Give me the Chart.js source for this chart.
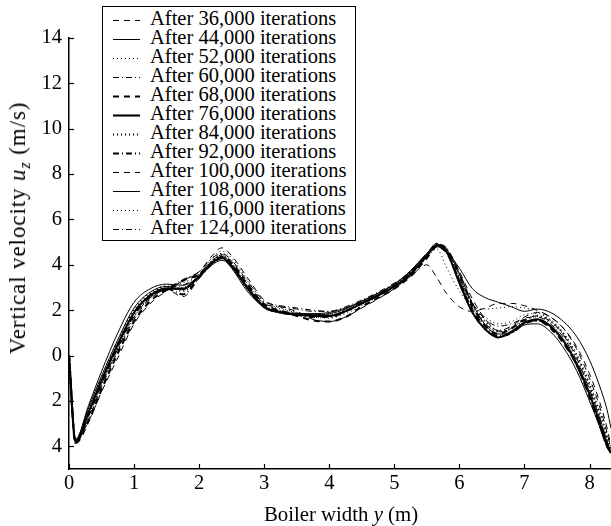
<!DOCTYPE html>
<html>
<head>
<meta charset="utf-8">
<script src="https://cdn.jsdelivr.net/npm/chart.js@4/dist/chart.umd.min.js"></script>
<style>
  html, body { margin: 0; padding: 0; background: #fff; }
  #wrap { position: relative; width: 611px; height: 526px; font-family: 'Liberation Serif', 'Times New Roman', serif; color: #000; }
  #c { position: absolute; left: 0; top: 0; }
  .axis-title { position: absolute; line-height: 20px; white-space: nowrap; }
  .axis-title sub { font-size: 0.7em; vertical-align: -0.3em; line-height: 0; font-style: italic; }
  #legend { position: absolute; left: 102px; top: 6px; width: 254px; height: 235px; box-sizing: border-box; border: 1.3px solid #000; background: #fff; }
  .row { position: absolute; left: 0; height: 19px; width: 100%; }
  .row svg { position: absolute; left: 10px; top: 0; }
  .row span { position: absolute; left: 47px; top: -2.5px; font-size: 20.5px; line-height: 19px; white-space: nowrap; }
</style>
</head>
<body>
<div id="wrap">
  <canvas id="c" width="611" height="526"></canvas>
  <div id="legend"></div>
  <div class="axis-title" id="ytitle" style="left:18px; top:228px; font-size:23px; letter-spacing:0.9px; transform: translate(-50%, -50%) rotate(-90deg);">Vertical velocity <i>u</i><sub>z</sub> (m/s)</div>
  <div class="axis-title" id="xtitle" style="left:341px; top:504px; font-size:20.8px; transform: translateX(-50%);">Boiler width <i>y</i> (m)</div>
</div>
<script>
// Positions across the boiler width y (m)
const boilerWidth = [0, 0.1, 0.3, 0.5, 0.75, 1.0, 1.25, 1.5, 1.75, 2.0, 2.2, 2.35, 2.5, 2.75, 3.0, 3.25, 3.5, 3.75, 4.0, 4.25, 4.5, 4.75, 5.0, 5.25, 5.5, 5.65, 5.8, 6.0, 6.2, 6.4, 6.6, 6.8, 7.0, 7.2, 7.4, 7.6, 7.8, 8.0, 8.15, 8.27, 8.33];

// Vertical velocity u_z (m/s) after each number of iterations
const uz36k  = [0, -3.75, -2.9, -1.6, -0.1, 1.4, 2.3, 2.85, 3.3, 3.7, 4.4, 4.75, 4.4, 3.4, 2.45, 2.15, 1.95, 1.6, 1.5, 1.7, 2.1, 2.5, 2.95, 3.5, 4.0, 3.45, 2.75, 2.15, 1.95, 2.1, 2.3, 2.3, 2.2, 2.0, 1.7, 1.2, 0.4, -0.8, -2.0, -3.2, -4.0];
const uz44k  = [0, -3.7, -2.2, -0.7, 1.0, 2.35, 2.95, 3.15, 3.1, 3.5, 4.1, 4.3, 3.85, 2.8, 2.15, 1.95, 1.85, 1.85, 1.9, 2.1, 2.4, 2.75, 3.15, 3.75, 4.5, 4.8, 4.6, 3.85, 2.95, 2.55, 2.35, 2.15, 1.95, 2.05, 1.9, 1.5, 0.85, -0.2, -1.3, -2.4, -3.2];
const uz52k  = [0, -3.8, -2.6, -1.2, 0.4, 1.8, 2.6, 3.0, 3.2, 3.6, 4.3, 4.6, 4.3, 3.3, 2.35, 2.1, 1.9, 1.7, 1.65, 1.85, 2.2, 2.6, 3.0, 3.55, 4.3, 4.7, 3.9, 2.85, 2.15, 2.05, 2.1, 2.15, 2.1, 1.95, 1.6, 1.0, 0.1, -1.2, -2.4, -3.5, -4.2];
const uz60k  = [0, -3.8, -2.7, -1.3, 0.3, 1.7, 2.55, 2.95, 3.35, 3.7, 4.3, 4.5, 4.2, 3.25, 2.4, 2.2, 2.1, 2.0, 1.95, 2.1, 2.35, 2.7, 3.05, 3.6, 4.4, 4.8, 4.5, 3.4, 2.3, 1.6, 1.3, 1.4, 1.65, 1.7, 1.4, 0.8, -0.2, -1.5, -2.7, -3.8, -4.3];
const uz68k  = [0, -3.85, -2.9, -1.5, 0.1, 1.5, 2.4, 2.9, 3.3, 3.6, 4.1, 4.35, 4.05, 3.1, 2.25, 1.95, 1.75, 1.55, 1.5, 1.7, 2.15, 2.55, 2.95, 3.5, 4.3, 4.8, 4.55, 3.3, 2.0, 1.3, 0.95, 1.2, 1.55, 1.55, 1.2, 0.55, -0.4, -1.8, -3.0, -4.0, -4.3];
const uz76k  = [0, -3.8, -2.5, -1.1, 0.5, 1.9, 2.65, 2.95, 2.95, 3.5, 4.1, 4.3, 3.95, 2.95, 2.15, 1.9, 1.8, 1.75, 1.75, 1.95, 2.3, 2.65, 3.05, 3.6, 4.4, 4.85, 4.6, 3.2, 1.9, 1.15, 0.8, 1.05, 1.45, 1.6, 1.3, 0.65, -0.35, -1.7, -2.9, -3.9, -4.3];
const uz84k  = [0, -3.75, -2.4, -1.0, 0.6, 2.0, 2.75, 3.05, 2.85, 3.5, 4.15, 4.4, 4.0, 3.0, 2.2, 1.95, 1.85, 1.8, 1.8, 2.0, 2.3, 2.7, 3.1, 3.65, 4.4, 4.9, 4.65, 3.5, 2.3, 1.5, 1.1, 1.2, 1.55, 1.75, 1.5, 0.95, 0.0, -1.3, -2.5, -3.6, -4.2];
const uz92k  = [0, -3.85, -2.6, -1.2, 0.4, 1.8, 2.6, 2.95, 2.7, 3.45, 4.05, 4.3, 3.95, 2.95, 2.15, 1.9, 1.8, 1.7, 1.7, 1.95, 2.3, 2.7, 3.1, 3.65, 4.45, 4.9, 4.7, 3.6, 2.2, 1.3, 0.85, 1.0, 1.4, 1.55, 1.25, 0.6, -0.4, -1.8, -3.0, -4.0, -4.3];
const uz100k = [0, -3.8, -2.8, -1.4, 0.2, 1.6, 2.5, 2.9, 2.6, 3.4, 4.1, 4.45, 4.15, 3.15, 2.3, 2.0, 1.85, 1.75, 1.75, 1.95, 2.3, 2.65, 3.05, 3.6, 4.45, 4.95, 4.75, 3.7, 2.5, 1.6, 1.1, 1.3, 1.7, 1.9, 1.7, 1.2, 0.3, -1.0, -2.2, -3.4, -4.1];
const uz108k = [0, -3.7, -2.3, -0.9, 0.7, 2.1, 2.8, 3.05, 2.9, 3.45, 4.0, 4.2, 3.9, 2.9, 2.1, 1.9, 1.85, 1.8, 1.85, 2.05, 2.4, 2.75, 3.15, 3.7, 4.5, 4.9, 4.7, 3.6, 2.3, 1.35, 0.95, 1.0, 1.35, 1.4, 1.05, 0.35, -0.65, -2.0, -3.1, -4.0, -4.3];
const uz116k = [0, -3.8, -2.7, -1.3, 0.3, 1.7, 2.55, 2.95, 3.0, 3.55, 4.2, 4.5, 4.15, 3.15, 2.3, 2.05, 1.9, 1.8, 1.8, 2.0, 2.35, 2.7, 3.05, 3.6, 4.4, 4.85, 4.6, 3.4, 2.3, 1.7, 1.4, 1.5, 1.8, 1.85, 1.55, 0.95, 0.0, -1.35, -2.6, -3.7, -4.2];
const uz124k = [0, -3.75, -2.5, -1.1, 0.5, 1.9, 2.7, 3.0, 3.1, 3.6, 4.2, 4.4, 4.05, 3.05, 2.3, 2.15, 2.05, 1.95, 1.95, 2.15, 2.45, 2.8, 3.2, 3.7, 4.45, 4.85, 4.55, 3.3, 2.1, 1.4, 1.05, 1.2, 1.6, 1.75, 1.5, 0.9, -0.1, -1.5, -2.7, -3.8, -4.3];

const seriesLabels = [
  'After 36,000 iterations', 'After 44,000 iterations', 'After 52,000 iterations',
  'After 60,000 iterations', 'After 68,000 iterations', 'After 76,000 iterations',
  'After 84,000 iterations', 'After 92,000 iterations', 'After 100,000 iterations',
  'After 108,000 iterations', 'After 116,000 iterations', 'After 124,000 iterations'
];
const seriesValues = [uz36k, uz44k, uz52k, uz60k, uz68k, uz76k, uz84k, uz92k, uz100k, uz108k, uz116k, uz124k];

// Axis ticks
const xTicks = [0, 1, 2, 3, 4, 5, 6, 7, 8];
const yTicks = [-4, -2, 0, 2, 4, 6, 8, 10, 12, 14];
const yTickLabels = ['4', '2', '0', '2', '4', '6', '8', '10', '12', '14'];

// Line styles cycle: dashed, solid, dotted, dash-dot; 68k–92k drawn heavier
const DASHES = [[6, 5], [], [1, 3], [6, 3, 1, 3]];
function styleFor(i) {
  const heavy = i >= 4 && i <= 7;
  return { dash: DASHES[i % 4], width: heavy ? 2.1 : 1 };
}

const FONT = "'Liberation Serif', 'Times New Roman', serif";

const datasets = seriesValues.map((vals, i) => {
  const st = styleFor(i);
  return {
    label: seriesLabels[i],
    data: vals.map((v, k) => ({ x: boilerWidth[k], y: v })),
    borderColor: '#000',
    backgroundColor: '#000',
    borderWidth: st.width,
    borderDash: st.dash,
    pointRadius: 0,
    fill: false,
    cubicInterpolationMode: 'monotone'
  };
});

// Tick marks pointing into the plot area
const inwardTicks = {
  id: 'inwardTicks',
  afterDraw(chart) {
    const { ctx, chartArea, scales } = chart;
    ctx.save();
    ctx.strokeStyle = '#000';
    ctx.lineWidth = 1.2;
    xTicks.forEach(v => {
      const px = Math.round(scales.x.getPixelForValue(v)) + 0.5;
      ctx.beginPath();
      ctx.moveTo(px, chartArea.bottom);
      ctx.lineTo(px, chartArea.bottom - 5);
      ctx.stroke();
    });
    yTicks.forEach(v => {
      const py = Math.round(scales.y.getPixelForValue(v)) + 0.5;
      ctx.beginPath();
      ctx.moveTo(chartArea.left, py);
      ctx.lineTo(chartArea.left + 5, py);
      ctx.stroke();
    });
    ctx.restore();
  }
};

new Chart(document.getElementById('c'), {
  type: 'line',
  data: { datasets },
  options: {
    responsive: false,
    animation: false,
    devicePixelRatio: 1,
    layout: { padding: { top: 38, right: 0, bottom: 0, left: 0 } },
    plugins: { legend: { display: false }, tooltip: { enabled: false } },
    scales: {
      x: {
        type: 'linear',
        min: 0,
        max: 8.33,
        afterBuildTicks: s => { s.ticks = xTicks.map(v => ({ value: v })); },
        afterFit: s => { s.height = 57; },
        ticks: { color: '#000', font: { family: FONT, size: 20.5 }, padding: 2, maxRotation: 0, callback: v => String(v) },
        grid: { display: true, drawOnChartArea: false, drawTicks: false, color: '#000' },
        border: { display: true, color: '#000', width: 1.5 }
      },
      y: {
        type: 'linear',
        min: -5,
        max: 14,
        afterBuildTicks: s => { s.ticks = yTicks.map(v => ({ value: v })); },
        afterFit: s => { s.width = 69; },
        ticks: {
          color: '#000', font: { family: FONT, size: 20.5 }, padding: 7,
          callback: v => yTickLabels[yTicks.indexOf(v)]
        },
        grid: { display: true, drawOnChartArea: false, drawTicks: false, color: '#000' },
        border: { display: true, color: '#000', width: 1.5 }
      }
    }
  },
  plugins: [inwardTicks]
});

// Legend box built from the same series labels and line styles
const legend = document.getElementById('legend');
seriesLabels.forEach((lab, i) => {
  const st = styleFor(i);
  const row = document.createElement('div');
  row.className = 'row';
  row.style.top = (4.2 + 19 * i) + 'px';
  const svgNS = 'http://www.w3.org/2000/svg';
  const svg = document.createElementNS(svgNS, 'svg');
  svg.setAttribute('width', '27');
  svg.setAttribute('height', '19');
  const ln = document.createElementNS(svgNS, 'line');
  ln.setAttribute('x1', '0'); ln.setAttribute('x2', '27');
  ln.setAttribute('y1', '9.5'); ln.setAttribute('y2', '9.5');
  ln.setAttribute('stroke', '#000');
  ln.setAttribute('stroke-width', String(st.width));
  if (st.dash.length) ln.setAttribute('stroke-dasharray', st.dash.join(' '));
  svg.appendChild(ln);
  const span = document.createElement('span');
  span.textContent = lab;
  row.appendChild(svg);
  row.appendChild(span);
  legend.appendChild(row);
});
</script>
</body>
</html>
